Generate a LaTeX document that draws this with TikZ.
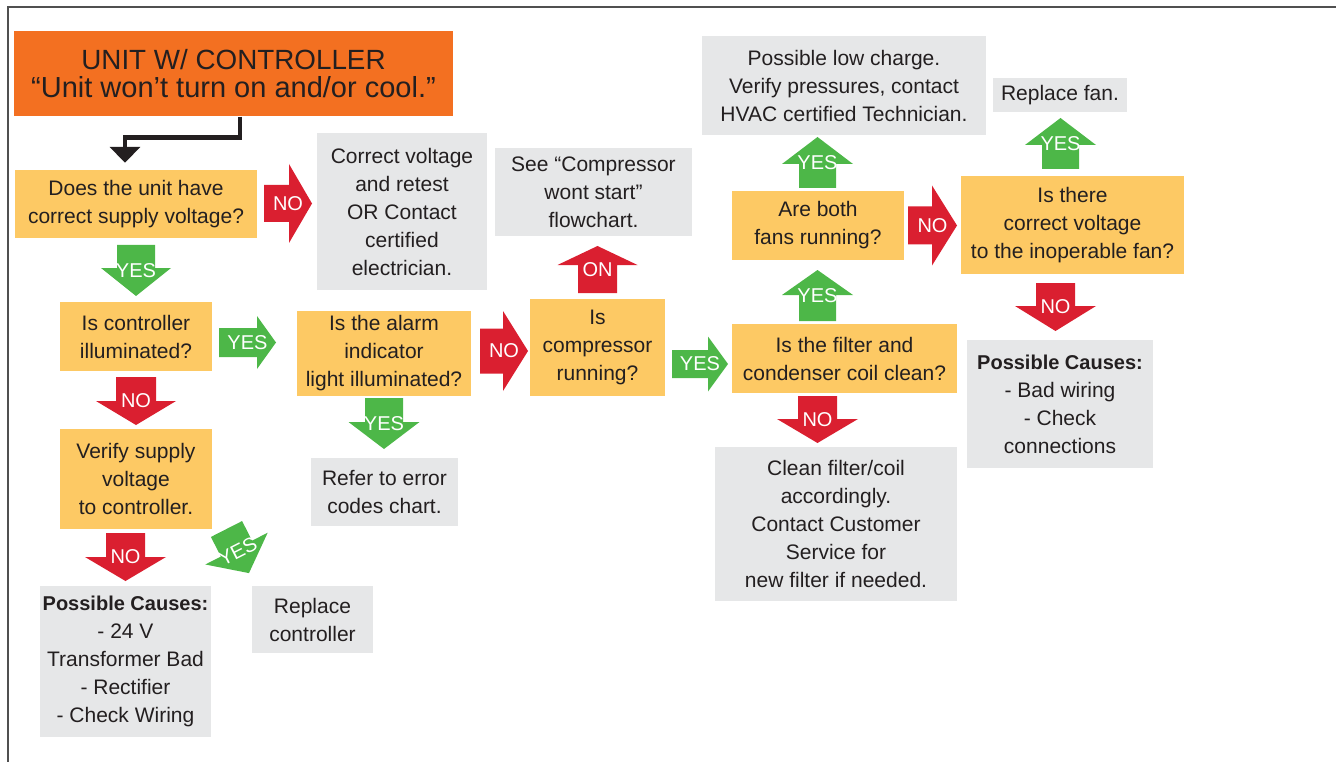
\documentclass[tikz,border=0pt]{standalone}
\usepackage{fontspec}
\setmainfont{Liberation Sans}
\usetikzlibrary{arrows.meta}
\definecolor{cOrange}{HTML}{F37021}
\definecolor{cYellow}{HTML}{FDC964}
\definecolor{cGray}{HTML}{E6E7E8}
\definecolor{cRed}{HTML}{DA1F30}
\definecolor{cGreen}{HTML}{4DB748}
\definecolor{cText}{HTML}{231F20}
\definecolor{cFrame}{HTML}{505050}
\tikzset{
 box/.style={inner sep=0pt, align=center, text=cText, font=\fontsize{21}{28}\selectfont},
 wh/.style 2 args={minimum width=#1pt, minimum height=#2pt},
 qbox/.style={box, fill=cYellow},
 gbox/.style={box, fill=cGray},
 titlebox/.style={box, fill=cOrange, font=\fontsize{28.5}{28}\selectfont},
 redarr/.style={fill=cRed},
 greenarr/.style={fill=cGreen},
 arrowlabel/.style={text=white, inner sep=0pt, font=\fontsize{20}{24}\selectfont},
 elbow/.style={draw=cText, line width=4.5pt, -{Triangle[width=30pt,length=16pt]}},
 frameline/.style={draw=cFrame, line width=2pt},
}
% #1 name, #2 tail centre, #3 angle, #4 shaft length, #5 shaft half width,
% #6 head length, #7 head half width, #8 colour style, #9 label
\newcommand\fatarrow[9]{%
 \begin{scope}[shift={#2},rotate=#3]
  \fill[#8] (0,-#5) -- (#4,-#5) -- (#4,-#7) -- ({#4+#6},0) -- (#4,#7) -- (#4,#5) -- (0,#5) -- cycle;
  \node[arrowlabel] (#1) at ({(#4+#6)/2},0) {#9};
 \end{scope}}
\newcommand\causes{{\fontsize{20}{28}\selectfont\bfseries Possible Causes:}}
\begin{document}
\begin{tikzpicture}[x=1pt,y=-1pt]
\useasboundingbox (0,0) rectangle (1336,762);
\draw[frameline] (7.5,763) -- (7.5,7) -- (1337,7);

% boxes
\node[titlebox, wh={439}{85}] (title) at (233.5,74) {{\fontsize{27.8}{28}\selectfont UNIT W/ CONTROLLER}\\{\fontsize{29}{28}\selectfont “Unit won’t turn on and/or cool.”}};
\node[qbox, wh={242}{68}] (q1) at (136,204) {Does the unit have\\correct supply voltage?};
\node[gbox, wh={170}{157}] (g1) at (402,211.5) {Correct voltage\\and retest\\OR Contact\\certified\\electrician.};
\node[qbox, wh={152}{69}] (q2) at (136,336.5) {Is controller\\illuminated?};
\node[qbox, wh={174}{85}] (q3) at (384,353.5) {Is the alarm\\indicator\\light illuminated?};
\node[qbox, wh={135}{97}] (q4) at (597.5,347.5) {Is\\compressor\\running?};
\node[gbox, wh={197}{88}] (g2) at (593.5,192) {See “Compressor\\wont start”\\flowchart.};
\node[qbox, wh={225}{69}] (q5) at (844.5,358.5) {Is the filter and\\condenser coil clean?};
\node[qbox, wh={172}{69}] (q6) at (818,225.5) {Are both\\fans running?};
\node[gbox, wh={284}{99}] (g3) at (844,85.5) {Possible low charge.\\Verify pressures, contact\\HVAC certified Technician.};
\node[qbox, wh={223}{98}] (q7) at (1072.5,225) {Is there\\correct voltage\\to the inoperable fan?};
\node[gbox, wh={134}{34}] (g4) at (1060,95) {Replace fan.};
\node[gbox, wh={186}{128}] (g5) at (1060,404) {\causes\\- Bad wiring\\- Check\\connections};
\node[gbox, wh={242}{154}] (g6) at (836,524) {Clean filter/coil\\accordingly.\\Contact Customer\\Service for\\new filter if needed.};
\node[qbox, wh={152}{100}] (q8) at (136,479) {Verify supply\\voltage\\to controller.};
\node[gbox, wh={147}{68}] (g7) at (384.5,492) {Refer to error\\codes chart.};
\node[gbox, wh={171}{151}] (g8) at (125.5,661.5) {\causes\\- 24 V\\Transformer Bad\\- Rectifier\\- Check Wiring};
\node[gbox, wh={121}{67}] (g9) at (312.5,619.5) {Replace\\controller};

% start connector
\draw[elbow] ([xshift=6.5pt]title.south) -- ++(0,21) -| ([xshift=-11pt,yshift=7pt]q1.north);

% block arrows
\fatarrow{a1}{(264,203.5)}{0}{25}{18.5}{23}{39.5}{redarr}{NO}
\fatarrow{a2}{(136,245)}{-90}{23}{19}{28}{35}{greenarr}{YES}
\fatarrow{a3}{(219,342.5)}{0}{38}{14.5}{19}{26.5}{greenarr}{YES}
\fatarrow{a4}{(136,377)}{-90}{24}{20}{24}{40}{redarr}{NO}
\fatarrow{a5}{(480,351)}{0}{23}{22.5}{25}{40}{redarr}{NO}
\fatarrow{a6}{(597.5,293)}{90}{28}{19.5}{19}{40}{redarr}{ON}
\fatarrow{a7}{(672,364)}{0}{36}{14}{20}{27.5}{greenarr}{YES}
\fatarrow{a8}{(817.5,321)}{90}{26}{18.5}{25}{35.5}{greenarr}{YES}
\fatarrow{a9}{(817.5,188)}{90}{24}{18.5}{27}{35.5}{greenarr}{YES}
\fatarrow{a10}{(908,225.5)}{0}{24}{19}{25}{40}{redarr}{NO}
\fatarrow{a11}{(1060.5,169)}{90}{24}{18.5}{27}{35.5}{greenarr}{YES}
\fatarrow{a12}{(1055.5,283)}{-90}{23}{19.5}{25}{40.5}{redarr}{NO}
\fatarrow{a13}{(817.5,396)}{-90}{23}{19.5}{24}{40.5}{redarr}{NO}
\fatarrow{a14}{(384,398)}{-90}{24}{19}{27}{35.5}{greenarr}{YES}
\fatarrow{a15}{(125.5,533)}{-90}{24}{19.5}{24}{40.5}{redarr}{NO}
\begin{scope}[arrowlabel/.append style={rotate=27}]
\fatarrow{a16}{(226.5,529)}{-63}{22}{17.5}{27.5}{35}{greenarr}{YES}
\end{scope}
\end{tikzpicture}
\end{document}
